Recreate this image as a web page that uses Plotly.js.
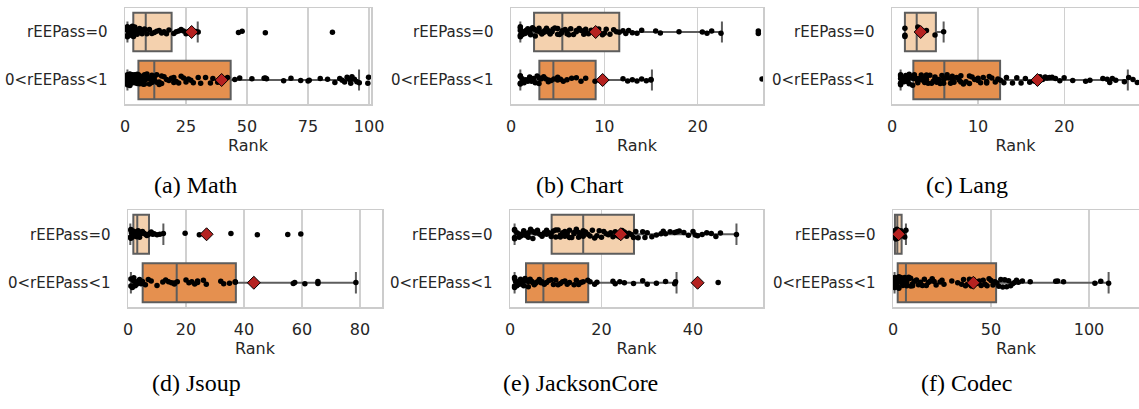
<!DOCTYPE html>
<html>
<head>
<meta charset="utf-8">
<script src="https://cdn.plot.ly/plotly-3.0.1.min.js"></script>
<style>html,body{margin:0;padding:0;background:#fff;}#chart{width:1139px;height:409px;}</style>
</head>
<body>
<div id="chart"></div>
<script>
// ---------- DATA ----------
const categories = ['rEEPass=0', '0<rEEPass<1'];
const projects = ['(a) Math', '(b) Chart', '(c) Lang', '(d) Jsoup', '(e) JacksonCore', '(f) Codec'];

// box statistics per project (order as above), group rEEPass=0
const lowZero  = [1,    1,    1.5,  0.8,  1,    1];
const q1Zero   = [3.4,  2.47, 1.5,  1.84, 9.1,  1.0];
const medZero  = [8.5,  5.5,  2.87, 3.2,  16.0, 2.2];
const q3Zero   = [19.1, 11.6, 5.1,  7.24, 27.1, 4.4];
const highZero = [29.8, 22.6, 6.0,  12.2, 49.5, 6.6];
const meanZero = [27.3, 9.07, 3.33, 27.1, 24.2, 2.9];
// group 0<rEEPass<1
const lowPartial  = [1,    1,    1,    1,    1,    0.8];
const q1Partial   = [5.5,  3.04, 2.48, 5.06, 3.5,  2.4];
const medPartial  = [12.0, 4.54, 6.08, 16.8, 7.3,  6.6];
const q3Partial   = [43.3, 9.07, 12.56,37.2, 17.1, 52.6];
const highPartial = [95.9, 15.1, 27.4, 78.6, 36.4, 110];
const meanPartial = [39.6, 9.82, 16.9, 43.4, 41.0, 41.0];

// individual ranks (strip points)
const mathZeroPts = [1,1,1,1,1,1.5,2,2,2,2,2.5,3,3,3,3,3.5,4,4,4,4.5,5,5,5,6,6,6,7,7,8,8,9,10,11,12,13,14,15,16,17,18,20,21,22,23,24,25,26,27,28,29,30,46.5,48,57.5,85];
const mathPartialPts = [1,1,1,1,1,1,1,1,1.5,1.5,2,2,2,2,2,2,2.5,3,3,3,3,3,3.5,4,4,4,4,4.5,5,5,5,5.5,6,6,6,6.5,7,7,7.5,8,8,8.5,9,9,9.5,10,10,11,11,12,12,13,13,14,14,15,15,16,17,18,19,20,20,21,22,23,24,25,26,27,28,30,31,33,35,36,38,39,40,42,45,47,52,57,57.5,58,65,68,72,75,75.5,80,83,86,88,89,90,91,92,92.5,93,94,95,96,99.5,99.8];
const chartZeroPts = [1,1,1,1,1,1.2,1.4,1.5,1.6,1.8,2,2,2.1,2.3,2.5,2.6,2.8,3,3,3.1,3.3,3.5,3.6,3.8,4,4,4.2,4.4,4.5,4.7,5,5,5.2,5.4,5.5,5.8,6,6,6.2,6.4,6.7,7,7,7.3,7.5,7.8,8,8,8.3,8.6,9,9,9.4,9.8,10,10.2,10.6,11,11.3,11.6,12,12.3,12.6,13,13.5,14,15.5,16,18,20.5,21,21.5,22.5,26.5,26.5];
const chartPartialPts = [1,1,1,1,1.2,1.4,1.6,1.8,2,2,2.2,2.4,2.6,2.8,3,3,3.2,3.5,3.7,4,4,4.3,4.6,5,5,5.3,5.6,6,6.5,7,7.5,8,9,9.5,10,12,12.5,13,13.5,14,14.5,15,15,26.9];
const langZeroPts = [1.5,1.5,1.5,3,4,5,6];
const langPartialPts = [1,1,1,1,1,1,1.2,1.4,1.5,1.6,1.8,2,2,2,2.2,2.4,2.5,2.6,2.8,3,3,3,3.2,3.4,3.5,3.6,3.8,4,4,4,4.2,4.4,4.6,4.8,5,5,5.2,5.4,5.6,5.8,6,6,6.2,6.4,6.6,6.8,7,7,7.2,7.5,7.8,8,8,8.3,8.6,9,9,9.3,9.6,10,10,10.3,10.6,11,11,11.3,11.6,12,12.3,12.6,13,13.3,14,14.5,15,15.5,16,16.5,17,17.2,17.5,17.8,18,18.3,18.6,19,19.5,20,21,22.5,23,24.5,25,25.3,25.6,26,27,27.5,28,28.5];
const jsoupZeroPts = [0.8,1,1,1,1.2,1.5,1.5,2,2,2,2.5,3,3,3.5,4,4,4.5,5,5.5,6,6.5,7,7.5,8,8.5,9,10,11,12.2,19.7,24.6,35.5,44.6,55.1,59.6];
const jsoupPartialPts = [1,1,1.5,2,2,2.5,3,3,3.5,4,4.5,5,6,7,8,10,12,13,14,15,16,16,17,20,21,22,23,24,24,26,27,32,33,35,37,37,57,57.5,61,65.5,65.5,78.6];
const jacksonZeroPts = [1,1,1,1,1.5,2,2,2.5,3,3,3.5,4,4,4.5,5,5,5.5,6,6,6.5,7,7,7.5,8,8,8.5,9,9,9.5,10,10,10.5,11,11,11.5,12,12,12.5,13,13,13.5,14,14,14.5,15,15,15.5,16,16,16.5,17,17.5,18,18.5,19,19.5,20,20.5,21,21.5,22,22.5,23,23.5,24,24.5,25,25.5,26,26.5,27,27.5,28,29,29.5,30,31,32,33,33.5,34,35,36,36.5,37,38,39,40,40.5,41,42,43,44,45,46,49.5];
const jacksonPartialPts = [1,1,1,1,1.2,1.5,1.8,2,2,2.3,2.6,3,3,3.3,3.6,4,4,4.4,4.8,5,5.3,5.6,6,6.4,6.8,7,7.5,8,8.5,9,9.5,10,10.5,11,11.5,12,12.5,13,14,14.5,15,15.5,16,17,17.5,18.5,19,22.5,23,24,25,27,29,30,32,34,36,36.2,45.5];
const codecZeroPts = [1,1,1.5,2,2,2.5,3,3,3.5,4,4.5,5,6,6.6];
const codecPartialPts = [1,1,1,1,1,1,1.5,1.5,2,2,2,2,2.5,3,3,3,3.5,4,4,4.5,5,5,5.5,6,6,6.5,7,7,8,8,9,9,10,10,11,12,13,14,15,16,17,18,19,20,21,22,24,25,26,30,33,35,36,37,38,39,40,41,42,43,44,45,46,47,48,49,50,51,52,53,54,55,56,57,58,59,60,61,62,63,64,66,70,83,84,87,103,106,110];

const zeroPts = [mathZeroPts, chartZeroPts, langZeroPts, jsoupZeroPts, jacksonZeroPts, codecZeroPts];
const partialPts = [mathPartialPts, chartPartialPts, langPartialPts, jsoupPartialPts, jacksonPartialPts, codecPartialPts];

// ---------- LAYOUT (pixel geometry) ----------
const W = 1139, H = 409;
const geo = [
  {x:[125,371], y:[8,104],   range:[0,100.8], dtick:25, cap:[195,185]},
  {x:[511,763], y:[8,104],   range:[0,27],    dtick:10, cap:[580,185]},
  {x:[892,1139],y:[8,104],   range:[0,28.7],  dtick:10, cap:[967,185]},
  {x:[128,382], y:[210,307], range:[0,87.6],  dtick:20, cap:[196,383]},
  {x:[510,763], y:[210,307], range:[0,55.3],  dtick:20, cap:[580,383]},
  {x:[893,1139],y:[210,307], range:[0,125.5], dtick:50, cap:[966,383]}
];
const fills = ['#f4d1ae', '#e5904f'];
const edge = '#5d5d5d';
const textCol = '#262626';

const traces = [];
const layout = {
  width: W, height: H,
  margin: {l:0, r:0, t:0, b:0},
  paper_bgcolor: '#fff', plot_bgcolor: '#fff',
  showlegend: false,
  boxmode: 'overlay',
  font: {family: 'DejaVu Sans', size: 15, color: textCol},
  annotations: []
};

geo.forEach((g, i) => {
  const n = i === 0 ? '' : String(i + 1);
  const xa = 'x' + n, ya = 'y' + n;
  const stats = [
    [lowZero[i], q1Zero[i], medZero[i], q3Zero[i], highZero[i]],
    [lowPartial[i], q1Partial[i], medPartial[i], q3Partial[i], highPartial[i]]
  ];
  categories.forEach((c, k) => {
    traces.push({
      type: 'box', orientation: 'h', xaxis: xa, yaxis: ya,
      y: [c], lowerfence: [stats[k][0]], q1: [stats[k][1]], median: [stats[k][2]],
      q3: [stats[k][3]], upperfence: [stats[k][4]],
      fillcolor: fills[k], line: {color: edge, width: 2},
      whiskerwidth: 0.55, width: 0.8, boxpoints: false, hoverinfo: 'skip'
    });
  });
  [zeroPts[i], partialPts[i]].forEach((pts, k) => {
    traces.push({
      type: 'box', orientation: 'h', xaxis: xa, yaxis: ya,
      x: pts, y: pts.map(() => categories[k]),
      boxpoints: 'all', jitter: 0.32, pointpos: 0, width: 0.8,
      fillcolor: 'rgba(0,0,0,0)', line: {color: 'rgba(0,0,0,0)', width: 0},
      marker: {color: '#000', size: 5.5, line: {width: 0}},
      hoveron: 'points'
    });
  });
  traces.push({
    type: 'scatter', mode: 'markers', xaxis: xa, yaxis: ya,
    x: [meanZero[i], meanPartial[i]], y: categories,
    marker: {symbol: 'diamond', size: 10, color: '#b52220', line: {color: '#000', width: 1}}
  });

  layout['xaxis' + n] = {
    domain: [g.x[0] / W, g.x[1] / W], anchor: ya,
    range: g.range, dtick: g.dtick, tick0: 0,
    showgrid: true, gridcolor: '#d0d0d0', gridwidth: 1.2, zeroline: false,
    showline: true, mirror: true, linecolor: '#cccccc', linewidth: 1.5,
    ticks: '', ticklabelstandoff: 7,
    tickfont: {size: 16, color: textCol},
    title: {text: 'Rank', font: {size: 16, color: textCol}, standoff: 5}
  };
  layout['yaxis' + n] = {
    domain: [1 - g.y[1] / H, 1 - g.y[0] / H], anchor: xa,
    type: 'category', categoryorder: 'array', categoryarray: categories,
    range: [1.5, -0.5], autorange: false,
    showgrid: false, zeroline: false,
    showline: true, mirror: true, linecolor: '#cccccc', linewidth: 1.5,
    ticks: '', ticklabelstandoff: 13,
    tickfont: {size: 15, color: textCol}
  };
  layout.annotations.push({
    xref: 'paper', yref: 'paper', x: g.cap[0] / W, y: 1 - g.cap[1] / H,
    xanchor: 'center', yanchor: 'middle', showarrow: false,
    text: projects[i],
    font: {family: 'Liberation Serif', size: 24, color: '#000'}
  });
});

Plotly.newPlot('chart', traces, layout, {staticPlot: true, displayModeBar: false});
</script>
</body>
</html>
